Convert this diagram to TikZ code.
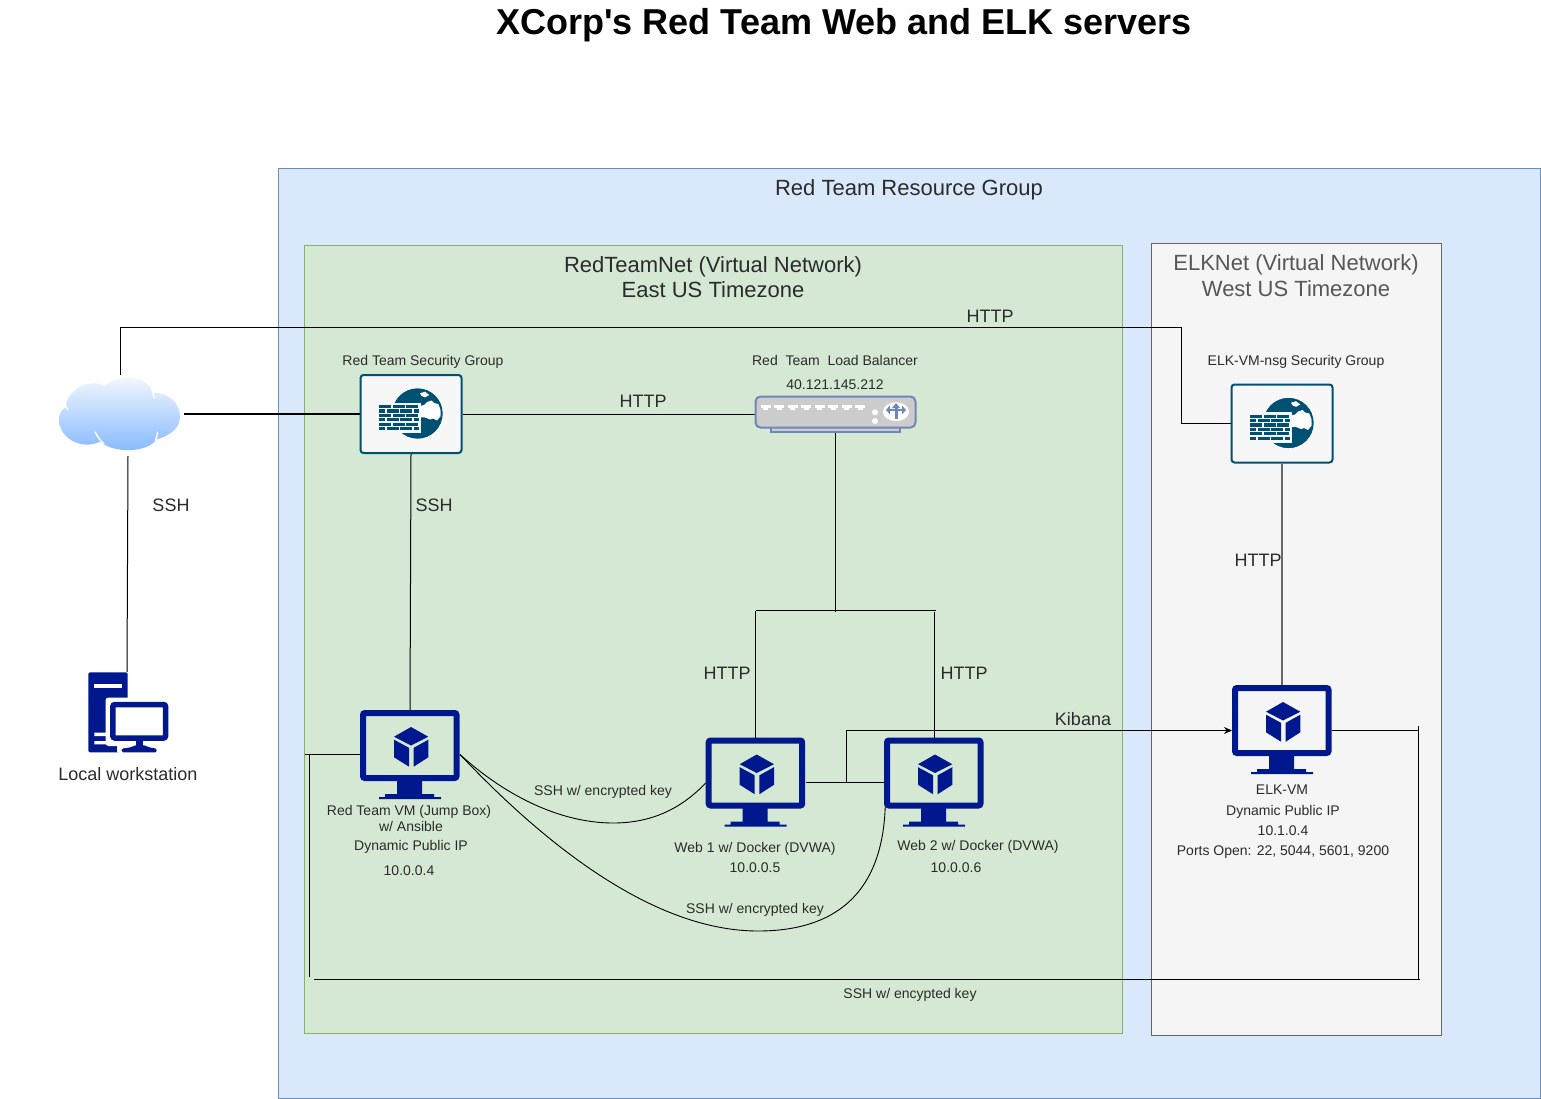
\documentclass[tikz,border=0pt]{standalone}
\usepackage{fontspec}
\setmainfont{Liberation Sans}
\newfontfamily\plainfont{Liberation Sans}
\usetikzlibrary{arrows.meta}
\definecolor{navy}{HTML}{00188D}
\definecolor{fwblue}{HTML}{005073}
\definecolor{lbblue}{HTML}{6F86B8}
\definecolor{txt}{HTML}{2B2B2B}
\definecolor{outerfill}{HTML}{DAE8FC}
\definecolor{outerline}{HTML}{6C8EBF}
\definecolor{greenfill}{HTML}{D5E8D4}
\definecolor{greenline}{HTML}{82B366}
\definecolor{grayfill}{HTML}{F5F5F5}
\definecolor{grayline}{HTML}{666666}
\definecolor{cloudtop}{HTML}{F6FAFF}
\definecolor{cloudbot}{HTML}{85B8FF}
\newcommand{\szS}{\fontsize{14}{17}\selectfont}
\newcommand{\szM}{\fontsize{18}{22}\selectfont}
\newcommand{\szL}{\fontsize{22}{26}\selectfont}
\tikzset{
  x=1pt,y=-1pt,
  group/.style={line width=1pt},
  lbl/.style={anchor=base,inner sep=0pt,outer sep=0pt,text=txt},
  small/.style={lbl,font=\szS},
  mid/.style={lbl,font=\szM},
  large/.style={lbl,font=\szL},
  slot/.style={inner sep=0pt,outer sep=0pt,minimum width=100pt,minimum height=71pt},
  fwbox/.style={draw=fwblue,fill=white!97!black,line width=2pt,rounded corners=3pt,inner sep=0pt,outer sep=1pt,minimum width=101pt,minimum height=78pt},
  link/.style={draw=black,line width=1pt},
  vmicon/.pic={
    \draw[navy,line width=6pt,rounded corners=2pt] (3,3) rectangle (96.5,68);
    \fill[navy] (37,70) rectangle (62,85) (25,84) rectangle (74,87) (19,87) rectangle (81,89);
    \fill[navy] (51,17) -- (68.3,26.7) -- (51,35.5) -- (34,26.7) -- cycle;
    \fill[navy] (34,29.7) -- (49,37.8) -- (49,56.7) -- (34,47.3) -- cycle;
    \fill[navy] (53.7,37.8) -- (68.3,29.7) -- (68.3,47.3) -- (53.7,56.7) -- cycle;
  },
  fwicon/.pic={
    \fill[fwblue] (57.5,39.5) circle[radius=25];
    \fill[white] (60,32) -- (64,31) -- (67,28) -- (71.7,26.5) -- (74,29) -- (78.3,30) -- (80.7,36) -- (80.7,42) -- (77,46.5) -- (73,44.5) -- (70,45.5) -- (65,43.5) -- (60,43.3) -- cycle;
    \fill[white] (60,19.3) -- (65,17.7) -- (69.3,21) -- (65,23.3) -- (61.7,22) -- cycle;
    \draw[fwblue,line width=1.4pt] (57.5,39.5) circle[radius=24.3];
    \fill[white!97!black] (17,28.5) rectangle (61,59);
    \foreach \r/\ph in {32.6/0,37/6,41.4/0,45.8/6,50.2/0,54.6/6}
      \draw[fwblue,line width=3.2pt,dash pattern=on 12pt off 1.5pt,dash phase=\ph pt] (19.3,\r) -- (59.3,\r);
  },
}
\begin{document}
\begin{tikzpicture}
\useasboundingbox (0,0) rectangle (1541,1099);
\fill[white] (0,0) rectangle (1541,1099);
% groups
\draw[group,draw=outerline,fill=outerfill] (278.5,168.5) rectangle (1540.5,1098.5);
\draw[group,draw=greenline,fill=greenfill] (304.5,245.5) rectangle (1122.5,1033.5);
\draw[group,draw=grayline,fill=grayfill] (1151.5,243.5) rectangle (1441.5,1035.5);
% title and group labels
\node[lbl,text=black,font=\plainfont\fontsize{36}{40}\selectfont\bfseries] (title) at (844,35) {XCorp's Red Team Web and ELK servers};
\node[large] (tRG) at (909,196) {Red Team Resource Group};
\node[large] (tRN1) at (713,272.5) {RedTeamNet (Virtual Network)};
\node[large] (tRN2) at (713,298) {East US Timezone};
\node[large,text=grayline!85!black] (tEN1) at (1296,270) {ELKNet (Virtual Network)};
\node[large,text=grayline!85!black] (tEN2) at (1296,296) {West US Timezone};
% anchor nodes for icons
\node[inner sep=0pt,outer sep=0pt,minimum width=121pt,minimum height=75pt] (cloud) at (120.5,413) {};
\node[inner sep=0pt,outer sep=0pt,minimum width=80pt,minimum height=80pt] (pc) at (128,712) {};
\node[fwbox] (fw1) at (411,414) {};
\node[fwbox] (fw2) at (1282,423.5) {};
\node[inner sep=0pt,outer sep=0pt,minimum width=161pt,minimum height=36pt] (lb) at (835.5,414.5) {};
\node[slot] (jump) at (410,745.5) {};
\node[slot] (web1) at (755.7,773) {};
\node[slot] (web2) at (934,773) {};
\node[slot] (elk) at (1282,720.5) {};
% junction coordinates
\coordinate (cA) at (120.5,327.5);
\coordinate (cB) at (1181.5,327.5);
\coordinate (cC) at (1181.5,423.5);
\coordinate (cT) at (835.5,612);
\coordinate (bL) at (755.5,610.5);
\coordinate (bR) at (936,610.5);
\coordinate (bD) at (934.5,612);
\coordinate (kA) at (846.5,782.5);
\coordinate (kB) at (846.5,730.5);
\coordinate (lA) at (305,754.5);
\coordinate (lB) at (309.5,754.5);
\coordinate (lC) at (309.5,977);
\coordinate (sA) at (314,979.5);
\coordinate (sB) at (1419.5,979.5);
\coordinate (rT) at (1418.5,726);
\coordinate (rB) at (1418.5,979.5);
\coordinate (rM) at (1418.5,730.5);
\coordinate (cv1) at (613,823);
\coordinate (cv2) at (758,931);
% connectors
\draw[link] (cloud.north) ++(0,-1) -- (cA) -- (cB) -- (cC) -- (fw2.west);
\draw[link,line width=2pt] (184,414) -- (fw1.west);
\draw[link] (fw1.east |- lb.west) -- (lb.west);
\draw[link] (lb.south) -- (cT);
\draw[link] (bL) -- (bR);
\draw[link] (bL) -- (bL |- web1.north);
\draw[link] (bD) -- (bD |- web2.north);
\draw[link] (128,456) -- (pc.north -| 127,0);
\draw[link] (fw1.south) -- (jump.north);
\draw[link,draw=grayline,line width=1.6pt] (fw2.south) -- (elk.north);
\draw[link] (web1.east |- kA) -- (885,782.5);
\draw[link,-{Stealth[length=8pt,width=7pt]}] (kA) -- (kB) -- (elk.west |- kB);
\draw[link] (lA) -- (jump.west |- lA);
\draw[link] (lB) -- (lC);
\draw[link] (sA) -- (sB);
\draw[link] (rT) -- (rB);
\draw[link] (elk.east |- rM) -- (rM);
\draw[link,line width=0.9pt] (jump.east |- lA) .. controls (510,800) and (565,823) .. (cv1) .. controls (650,823) and (680,810) .. (web1.west |- 0,783);
\draw[link,line width=0.9pt] (jump.east |- lA) .. controls (555,855) and (660,931) .. (cv2) .. controls (848,931) and (890,880) .. (885,782.5);
% cloud
\begin{scope}[shift={(50,370)},xscale=1/3,yscale=1/3]
\shade[top color=cloudtop,bottom color=cloudbot]
  (48,112) .. controls (45,70) and (110,20) .. (165,48) .. controls (195,15) and (290,10) .. (308,68)
  .. controls (350,65) and (392,100) .. (390,140) .. controls (390,180) and (350,200) .. (320,208)
  .. controls (290,250) and (190,250) .. (150,215) .. controls (100,240) and (30,210) .. (27,150)
  .. controls (27,130) and (35,118) .. (48,112) -- cycle;
\draw[white,line width=1.4pt] (135,185) .. controls (142,200) and (150,210) .. (162,222);
\draw[white,line width=1.4pt] (323,185) .. controls (322,195) and (320,203) .. (316,212);
\draw[white,line width=1.4pt] (303,50) .. controls (308,62) and (310,72) .. (312,85);
\draw[white,line width=1.4pt] (46,95) .. controls (46,104) and (48,112) .. (54,120);
\end{scope}
% workstation
\fill[navy,rounded corners=1.5pt] (88.3,672.3) -- (127.7,672.3) -- (127.7,752.3) -- (88.3,752.3) -- cycle;
\fill[white] (94.3,684) rectangle (121.7,688.3);
\fill[white] (94.3,732.7) rectangle (106.7,736) (94.3,741) rectangle (116.7,744.3);
\fill[white,rounded corners=3pt] (105.5,697.5) rectangle (172,746);
\fill[white,rounded corners=2pt] (117,745) rectangle (160,753);
\draw[navy,line width=5.5pt,rounded corners=2pt] (112.9,704.5) rectangle (165.5,738);
\fill[navy] (136,740) rectangle (143.3,749);
\fill[navy,rounded corners=1.5pt] (121.7,748.5) .. controls (130,748) and (134,746) .. (136,745) -- (143.3,745) .. controls (146,746) and (150,748) .. (156.7,748.5) -- (156.7,752.3) -- (121.7,752.3) -- cycle;
% firewalls
\pic at (360,374) {fwicon};
\pic at (1231,383.5) {fwicon};
% load balancer
\draw[draw=lbblue,fill=black!20,line width=1.5pt] (771,427) rectangle (900,432);
\draw[draw=lbblue,fill=black!20,line width=2pt,rounded corners=5pt] (755.5,396.5) rectangle (915.5,427.5);
\foreach \i in {0,...,7} {
  \fill[white] ({760.5+13.55*\i},405) rectangle ({770.5+13.55*\i},408);
  \fill[white] ({763+13.55*\i},408) rectangle ({768+13.55*\i},410);
}
\fill[white] (875,412.3) circle[radius=3] (875,421) circle[radius=3];
\fill[white] (896,411.7) ellipse[x radius=13,y radius=9.5];
\draw[lbblue,line width=3pt] (896,406) -- (896,419);
\draw[lbblue,line width=2.6pt] (889,410) -- (903,410);
\fill[lbblue] (886,410) -- (890,405.5) -- (890,414.5) -- cycle (906,410) -- (902,405.5) -- (902,414.5) -- cycle (896,403) -- (892,408) -- (900,408) -- cycle;
% monitors
\pic at (360,710) {vmicon};
\pic at (705.7,737.5) {vmicon};
\pic at (884,737.5) {vmicon};
\pic at (1232,685) {vmicon};
% labels
\node[small] (l1) at (423,365) {Red Team Security Group};
\node[small] (l2) at (835,365) {Red\ \ Team\ \ Load Balancer};
\node[small] (l3) at (835,389) {40.121.145.212};
\node[small] (l4) at (1296,365) {ELK-VM-nsg Security Group};
\node[mid] (h1) at (643,407) {HTTP};
\node[mid] (h2) at (990,322) {HTTP};
\node[mid] (h3) at (1258,566) {HTTP};
\node[mid] (h4) at (727,679) {HTTP};
\node[mid] (h5) at (964,679) {HTTP};
\node[mid] (s1) at (171,511) {SSH};
\node[mid] (s2) at (434,511) {SSH};
\node[mid] (k1) at (1083,725) {Kibana};
\node[mid] (lw) at (128,780) {Local workstation};
\node[small] (j1) at (409,815) {Red Team VM (Jump Box)};
\node[small] (j2) at (411,831) {w/ Ansible};
\node[small] (j3) at (411,850) {Dynamic Public IP};
\node[small] (j4) at (409,875) {10.0.0.4};
\node[small] (w1) at (755,852) {Web 1 w/ Docker (DVWA)};
\node[small] (w2) at (755,872) {10.0.0.5};
\node[small] (w3) at (978,850) {Web 2 w/ Docker (DVWA)};
\node[small] (w4) at (956,872) {10.0.0.6};
\node[small] (e1) at (1282,794) {ELK-VM};
\node[small] (e2) at (1283,815) {Dynamic Public IP};
\node[small] (e3) at (1283,835) {10.1.0.4};
\node[small] (e4) at (1283,855) {Ports Open: 22, 5044, 5601, 9200};
\node[small] (c1) at (603,795) {SSH w/ encrypted key};
\node[small] (c2) at (755,913) {SSH w/ encrypted key};
\node[small] (c3) at (910,998) {SSH w/ encypted key};
\end{tikzpicture}
\end{document}
